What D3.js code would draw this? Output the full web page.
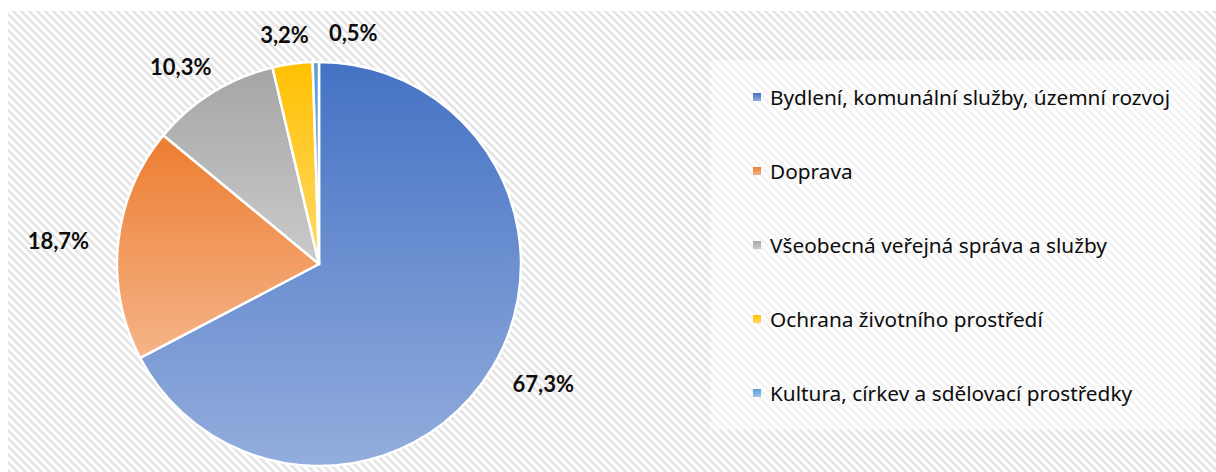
<!DOCTYPE html>
<html>
<head>
<meta charset="utf-8">
<script src="https://cdn.jsdelivr.net/npm/d3@7"></script>
<style>
  body { margin: 0; background: #fff; }
  svg { display: block; }
</style>
</head>
<body>
<svg id="chart"></svg>
<script>
// data
var categories = [
  "Bydlení, komunální služby, územní rozvoj",
  "Doprava",
  "Všeobecná veřejná správa a služby",
  "Ochrana životního prostředí",
  "Kultura, církev a sdělovací prostředky"
];
var values = [67.3, 18.7, 10.3, 3.2, 0.5];
var labels = ["67,3%", "18,7%", "10,3%", "3,2%", "0,5%"];
var colors = ["#4472C4", "#ED7D31", "#A5A5A5", "#FFC000", "#5B9BD5"];

var width = 1216, height = 472;
var cx = 319, cy = 264, radius = 202;

var svg = d3.select("#chart")
  .attr("width", width)
  .attr("height", height);

var defs = svg.append("defs");

// striped background pattern
var pat = defs.append("pattern")
  .attr("id", "stripes")
  .attr("patternUnits", "userSpaceOnUse")
  .attr("width", 5.66)
  .attr("height", 5.66)
  .attr("patternTransform", "rotate(-45)");
pat.append("rect").attr("width", 5.66).attr("height", 5.66).attr("fill", "#fff");
pat.append("rect").attr("width", 2.8).attr("height", 5.66).attr("fill", "#e5e5e5");

// gradient per slice, base colour on top, lighter at bottom
colors.forEach(function(c, i) {
  var g = defs.append("linearGradient")
    .attr("id", "grad" + i)
    .attr("x1", 0).attr("y1", 0).attr("x2", 0).attr("y2", 1);
  g.append("stop").attr("offset", "0%").attr("stop-color", c);
  g.append("stop").attr("offset", "100%").attr("stop-color", d3.interpolateRgb(c, "#fff")(0.42));
});

svg.append("rect")
  .attr("x", 8).attr("y", 11)
  .attr("width", width - 8).attr("height", height - 11)
  .attr("fill", "url(#stripes)");

// pie
var pie = d3.pie().sort(null).value(function(d) { return d; });
var arcs = pie(values);
var arc = d3.arc().innerRadius(0).outerRadius(radius);

var g = svg.append("g").attr("transform", "translate(" + cx + "," + cy + ")");

g.selectAll("path")
  .data(arcs)
  .enter()
  .append("path")
  .attr("d", arc)
  .attr("fill", function(d, i) { return "url(#grad" + i + ")"; })
  .attr("stroke", "#fff")
  .attr("stroke-width", 2.5)
  .attr("stroke-linejoin", "round");

// data labels, outside the pie
var lx = 262, ly = 232;
var lab = g.selectAll("text.lab")
  .data(arcs)
  .enter()
  .append("text")
  .attr("class", "lab")
  .text(function(d, i) { return labels[i]; })
  .attr("x", function(d) { var a = (d.startAngle + d.endAngle) / 2; return Math.sin(a) * lx; })
  .attr("y", function(d) { var a = (d.startAngle + d.endAngle) / 2; return -Math.cos(a) * ly; })
  .attr("text-anchor", "middle")
  .attr("dominant-baseline", "central")
  .attr("font-family", "Lato, 'Noto Sans', sans-serif")
  .attr("font-weight", "bold")
  .attr("font-size", 22)
  .attr("fill", "#0d0d0d");

// push overlapping labels apart
var prev = null;
lab.each(function() {
  var b = this.getBBox();
  if (prev && b.x < prev.x + prev.width + 20 && b.y < prev.y + prev.height && b.y + b.height > prev.y) {
    var shift = prev.x + prev.width + 20 - b.x;
    d3.select(this).attr("x", +d3.select(this).attr("x") + shift);
    b = this.getBBox();
  }
  prev = b;
});

// legend
var legX = 711, legY = 60, legW = 489, legH = 370;
svg.append("rect")
  .attr("x", legX).attr("y", legY)
  .attr("width", legW).attr("height", legH)
  .attr("fill", "#fff")
  .attr("fill-opacity", 0.55);

var rowH = legH / categories.length;
var leg = svg.selectAll("g.leg")
  .data(categories)
  .enter()
  .append("g")
  .attr("class", "leg")
  .attr("transform", function(d, i) { return "translate(" + (legX + 42) + "," + (legY + rowH * (i + 0.5)) + ")"; });

leg.append("rect")
  .attr("x", 0).attr("y", -4)
  .attr("width", 8).attr("height", 8)
  .attr("fill", function(d, i) { return "url(#grad" + i + ")"; });

leg.append("text")
  .attr("x", 17)
  .attr("y", 0)
  .attr("dominant-baseline", "central")
  .attr("font-family", "'Noto Sans', sans-serif")
  .attr("font-size", 20.8)
  .attr("fill", "#0d0d0d")
  .text(function(d) { return d; });
</script>
</body>
</html>
